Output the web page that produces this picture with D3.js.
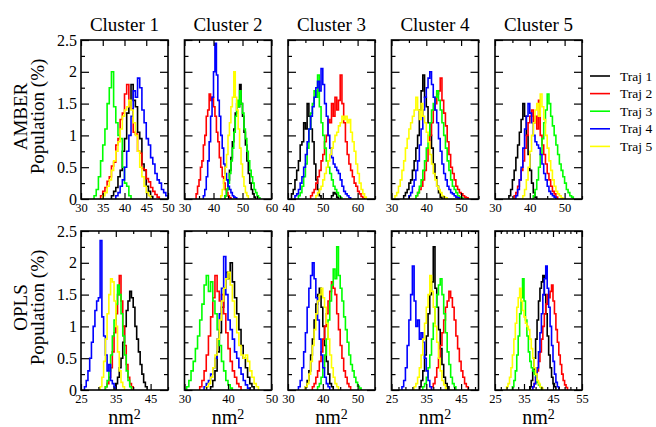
<!DOCTYPE html>
<html>
<head>
<meta charset="utf-8">
<script src="https://cdn.jsdelivr.net/npm/d3@7"></script>
<style>
  body { margin: 0; background: #fff; }
  svg text { font-family: "Liberation Serif", "DejaVu Serif", serif !important; fill: #000; }
</style>
</head>
<body>
<div id="chart"></div>
<script>
// Labels
const clusters = ["Cluster 1", "Cluster 2", "Cluster 3", "Cluster 4", "Cluster 5"];
const trajNames = ["Traj 1", "Traj 2", "Traj 3", "Traj 4", "Traj 5"];
const trajColors = ["#000000", "#ff0000", "#00ff00", "#0000ff", "#ffff00"];
const rowNames = ["AMBER", "OPLS"];
const binWidth = 0.5;

// Axis ranges and ticks
const amberDomains = [[30, 50], [30, 60], [40, 65], [30, 55], [30, 55]];
const oplsDomains = [[25, 50], [30, 50], [30, 55], [25, 50], [25, 55]];
const amberTicks = [[30, 35, 40, 45, 50], [30, 40, 50, 60], [40, 50, 60], [30, 40, 50], [30, 40, 50]];
const oplsTicks = [[25, 35, 45], [30, 40, 50], [30, 40, 50], [25, 35, 45], [25, 35, 45, 55]];
const amberMinor = [5, 5, 5, 5, 5];
const oplsMinor = [5, 5, 5, 2, 2];
const yTicks = [0, 0.5, 1, 1.5, 2, 2.5];
const yMinor = [0.25, 0.75, 1.25, 1.75, 2.25];

// Histogram start (nm2) of every trajectory, per cluster
const amberStart = [
  [37, 34.5, 33, 38, 35],
  [44, 34, 44, 36.5, 42.5],
  [41, 46.5, 43, 42, 48],
  [33.5, 37, 37, 35, 31],
  [34, 35.5, 41, 36, 38]
];
const oplsStart = [
  [34.5, 32, 32, 26, 30.5],
  [36, 33.5, 30.5, 34.5, 35],
  [35, 37, 38.5, 33, 35],
  [33, 36.5, 34, 28, 31.5],
  [37, 38, 31, 38, 29]
];

// Population (%) per 0.5 nm2 bin, Traj 1..5
const amberC1 = [
  [0.05,0.12,0.18,0.35,0.45,0.75,0.95,1.35,1.45,1.8,1.55,1.45,1.05,0.95,0.55,0.45,0.2,0.12,0.04],
  [0.05,0.12,0.18,0.28,0.35,0.52,0.58,0.85,0.95,1.25,1.35,1.65,1.8,1.45,1.42,1.05,1.02,0.75,0.72,0.48,0.46,0.32,0.27,0.18,0.12,0.07,0.03],
  [0.05,0.15,0.35,0.6,0.85,1.1,1.5,1.75,2.0,1.45,1.2,1.0,0.95,0.5,0.25,0.2,0.05],
  [0.05,0.1,0.2,0.3,0.5,0.75,1.0,1.3,1.7,1.6,1.9,1.75,1.4,1.2,0.95,0.85,0.65,0.55,0.4,0.3,0.25,0.15,0.1,0.05],
  [0.05,0.1,0.2,0.3,0.45,0.6,0.75,0.9,1.1,1.3,1.4,1.45,1.55,1.4,1.2,1.0,0.75,0.5,0.35,0.2,0.1,0.05]
];
const amberC2 = [
  [0.05,0.15,0.3,0.45,0.65,0.9,1.1,1.35,1.5,1.45,1.8,1.5,1.3,1.05,0.85,0.6,0.4,0.25,0.15,0.08,0.03],
  [0.08,0.2,0.3,0.5,0.6,0.85,1.0,1.3,1.4,1.65,1.55,1.6,1.45,1.3,1.05,0.9,0.65,0.5,0.35,0.25,0.15,0.1,0.05,0.02],
  [0.05,0.15,0.25,0.4,0.6,0.8,1.05,1.3,1.55,1.45,1.7,1.5,1.35,1.1,0.95,0.75,0.6,0.45,0.35,0.25,0.15,0.1,0.05,0.02],
  [0.05,0.15,0.35,0.6,0.9,1.3,1.6,2.0,2.45,1.95,1.55,1.3,1.0,0.8,0.55,0.4,0.3,0.2,0.15,0.1,0.05,0.03,0.02],
  [0.05,0.15,0.3,0.5,0.7,1.0,1.2,1.45,1.6,2.0,1.6,1.4,1.1,0.8,0.55,0.35,0.2,0.1,0.05]
];
const amberC3 = [
  [0.08,0.15,0.3,0.45,0.6,0.85,0.9,1.2,1.1,1.5,1.3,1.1,0.9,0.55,0.3,0.15,0.05,0,0,0,0,0,0,0.05,0.1,0.08,0.03],
  [0.05,0.1,0.15,0.25,0.35,0.45,0.6,0.7,0.9,1.0,1.25,1.2,1.5,1.3,1.6,1.4,1.55,1.95,1.5,1.2,0.9,0.7,0.55,0.45,0.35,0.25,0.2,0.12,0.08,0.04,0.02],
  [0.05,0.1,0.2,0.35,0.55,0.8,1.1,1.35,1.5,1.7,1.6,1.95,1.45,1.2,1.0,0.8,0.6,0.5,0.4,0.3,0.2,0.15,0.1,0.05,0.02],
  [0.05,0.08,0.15,0.25,0.35,0.5,0.7,0.9,1.1,1.3,1.45,1.6,1.75,1.85,1.7,2.05,1.8,1.5,1.3,1.0,0.8,0.65,0.55,0.5,0.45,0.4,0.3,0.2,0.12,0.08,0.05,0.02],
  [0.05,0.1,0.15,0.2,0.3,0.4,0.5,0.6,0.7,0.8,0.9,1.0,1.05,1.15,1.2,1.3,1.25,1.3,1.2,1.25,1.05,0.9,0.75,0.55,0.4,0.25,0.15,0.08,0.03]
];
const amberC4 = [
  [0.05,0.1,0.15,0.25,0.3,0.45,0.6,0.8,1.0,1.4,1.7,1.95,1.6,1.45,1.2,1.0,0.8,0.55,0.35,0.2,0.1,0.03],
  [0.05,0.1,0.15,0.2,0.3,0.45,0.6,0.8,1.0,1.2,1.4,1.5,1.65,1.7,1.9,1.55,1.35,1.15,0.9,0.7,0.5,0.4,0.3,0.2,0.15,0.1,0.08,0.05,0.03,0.02],
  [0.05,0.1,0.2,0.3,0.45,0.6,0.8,1.0,1.2,1.4,1.5,1.6,1.7,1.55,1.4,1.2,1.0,0.8,0.6,0.45,0.3,0.2,0.15,0.1,0.05,0.03,0.02],
  [0.05,0.1,0.2,0.3,0.45,0.6,0.85,1.1,1.4,1.6,1.75,1.9,2.0,1.8,1.6,1.4,1.2,0.95,0.75,0.55,0.4,0.3,0.2,0.15,0.1,0.08,0.05,0.03,0.02],
  [0.05,0.1,0.2,0.3,0.45,0.6,0.8,0.95,1.1,1.2,1.3,1.4,1.6,1.4,1.25,1.5,1.3,1.2,1.05,0.9,0.7,0.55,0.4,0.3,0.2,0.15,0.1,0.05,0.03,0.02]
];
const amberC5 = [
  [0.05,0.15,0.3,0.45,0.65,0.85,1.05,1.25,1.5,1.3,1.0,0.7,0.45,0.25,0.1,0.03],
  [0.05,0.1,0.2,0.3,0.45,0.6,0.8,1.0,1.2,1.3,1.4,1.2,1.3,1.1,1.55,1.0,0.85,0.7,0.55,0.4,0.3,0.2,0.12,0.08,0.03],
  [0.05,0.15,0.3,0.5,0.7,0.95,1.2,1.4,1.65,1.5,1.3,1.15,1.0,0.85,0.7,0.55,0.45,0.35,0.25,0.15,0.1,0.05,0.03],
  [0.05,0.15,0.3,0.5,0.8,1.1,1.3,1.5,1.35,1.2,1.0,0.9,0.85,0.8,0.7,0.55,0.4,0.3,0.2,0.12,0.08,0.05,0.03],
  [0.05,0.15,0.3,0.5,0.75,1.0,1.2,1.4,1.5,1.3,1.65,1.45,1.25,1.0,0.8,0.6,0.45,0.3,0.2,0.12,0.08,0.05,0.02]
];
const oplsC1 = [
  [0.05,0.1,0.2,0.35,0.5,0.75,1.0,1.25,1.4,1.55,1.45,1.3,1.0,0.8,0.6,0.4,0.25,0.12,0.05],
  [0.05,0.1,0.2,0.35,0.6,0.9,1.2,1.5,1.8,1.4,1.0,0.7,0.4,0.2,0.1,0.05],
  [0.05,0.15,0.3,0.55,0.85,1.1,1.35,1.65,1.5,1.2,0.85,0.55,0.3,0.15,0.05],
  [0.05,0.15,0.3,0.5,0.75,1.0,1.25,1.4,1.45,2.35,1.15,0.85,0.55,0.3,0.4,0.15,0.1,0.05],
  [0.05,0.2,0.45,0.8,1.2,1.5,1.75,1.7,1.4,1.0,0.6,0.3,0.12,0.05]
];
const oplsC2 = [
  [0.05,0.15,0.3,0.6,0.9,1.3,1.6,1.85,1.75,2.0,1.7,1.45,1.2,0.95,0.7,0.5,0.35,0.2,0.1,0.05],
  [0.05,0.15,0.3,0.55,0.85,1.15,1.45,1.8,1.55,1.4,1.5,1.2,0.9,0.65,0.45,0.3,0.2,0.1,0.05],
  [0.05,0.15,0.3,0.45,0.65,0.85,1.1,1.35,1.65,1.8,1.55,1.7,1.4,1.2,0.95,0.7,0.45,0.3,0.15,0.08,0.03],
  [0.05,0.1,0.15,0.25,0.35,0.5,0.8,1.2,1.6,2.1,1.5,1.1,0.95,0.8,0.6,0.5,0.35,0.25,0.15,0.08,0.03],
  [0.05,0.1,0.2,0.35,0.55,0.8,1.1,1.4,1.6,1.75,1.85,1.65,1.4,1.15,0.9,0.7,0.55,0.5,0.55,0.45,0.3,0.2,0.1,0.05]
];
const oplsC3 = [
  [0.05,0.15,0.3,0.55,0.8,1.1,1.35,1.5,1.6,1.3,1.0,0.7,0.45,0.25,0.1,0.05],
  [0.05,0.1,0.2,0.3,0.45,0.6,0.8,1.0,1.2,1.4,1.55,1.7,1.6,1.5,1.2,0.95,0.7,0.5,0.3,0.2,0.1,0.05],
  [0.05,0.1,0.2,0.35,0.55,0.8,1.1,1.4,1.65,1.9,1.75,2.25,1.8,1.6,1.4,1.15,0.95,0.75,0.55,0.4,0.3,0.2,0.12,0.06,0.03],
  [0.05,0.15,0.35,0.6,0.9,1.3,1.6,1.8,2.0,1.75,1.45,1.1,0.8,0.55,0.35,0.2,0.1,0.05],
  [0.05,0.1,0.25,0.45,0.7,0.95,1.2,1.4,1.5,1.6,1.45,1.3,1.05,0.8,0.55,0.35,0.2,0.1,0.05]
];
const oplsC4 = [
  [0.05,0.15,0.3,0.55,0.85,1.2,1.5,1.7,2.25,1.6,1.3,0.95,0.65,0.4,0.2,0.1,0.05],
  [0.05,0.1,0.2,0.35,0.5,0.7,0.9,1.1,1.3,1.4,1.55,1.45,1.3,1.1,0.85,0.65,0.45,0.3,0.2,0.1,0.05],
  [0.05,0.1,0.2,0.35,0.55,0.8,1.05,1.3,1.5,1.65,1.75,1.5,1.2,0.9,0.6,0.4,0.2,0.1,0.05],
  [0.05,0.15,0.35,0.7,1.1,1.5,1.95,1.4,1.0,1.1,0.8,0.9,0.75,0.5,0.3,0.15,0.05],
  [0.05,0.1,0.2,0.35,0.55,0.8,1.05,1.3,1.5,1.8,1.55,1.3,1.0,0.75,0.5,0.3,0.15,0.08,0.03]
];
const oplsC5 = [
  [0.05,0.15,0.3,0.5,0.8,1.1,1.4,1.6,1.7,1.8,1.5,1.2,0.85,0.55,0.35,0.2,0.1,0.05],
  [0.05,0.1,0.2,0.3,0.45,0.6,0.8,1.0,1.2,1.35,1.5,1.45,1.55,1.65,1.4,1.2,0.95,0.75,0.55,0.4,0.25,0.15,0.08,0.04],
  [0.05,0.15,0.3,0.55,0.85,1.2,1.45,1.75,1.4,1.1,0.85,0.6,0.45,0.35,0.3,0.25,0.2,0.12,0.08,0.05],
  [0.05,0.1,0.2,0.35,0.6,0.9,1.2,1.5,1.75,1.95,1.6,1.3,1.0,0.7,0.45,0.25,0.12,0.05],
  [0.05,0.1,0.2,0.35,0.55,0.8,1.05,1.3,1.45,1.6,1.4,1.25,1.15,1.05,1.0,0.95,0.8,0.65,0.5,0.35,0.25,0.15,0.1,0.05,0.03]
];

const rows = [
  { name: rowNames[0], domains: amberDomains, ticks: amberTicks, minor: amberMinor, start: amberStart, data: [amberC1, amberC2, amberC3, amberC4, amberC5] },
  { name: rowNames[1], domains: oplsDomains, ticks: oplsTicks, minor: oplsMinor, start: oplsStart, data: [oplsC1, oplsC2, oplsC3, oplsC4, oplsC5] }
];

// Layout
const W = 656, H = 427;
const panelW = 87;
const panelLeft = (i) => 81 + i * 103.5;
const rowTop = [40, 231];
const panelH = 159;
const serif = '"Liberation Serif", "DejaVu Serif", serif';

const svg = d3.select("#chart").append("svg").attr("width", W).attr("height", H);

const y = d3.scaleLinear().domain([0, 2.5]).range([panelH, 0]);

const line = d3.line()
  .x((d) => d[0])
  .y((d) => d[1])
  .curve(d3.curveStepAfter);

const axisStyle = (sel) => {
  sel.attr("font-family", null).attr("font-size", null);
  sel.select(".domain").remove();
  sel.selectAll("line").attr("stroke", "#000").attr("stroke-width", 1.2);
};

rows.forEach((row, r) => {
  row.data.forEach((series, c) => {
    const x = d3.scaleLinear().domain(row.domains[c]).range([0, panelW]);
    const g = svg.append("g").attr("transform", `translate(${panelLeft(c)},${rowTop[r]})`);

    const clipId = `clip-${r}-${c}`;
    g.append("clipPath").attr("id", clipId)
      .append("rect").attr("width", panelW).attr("height", panelH);

    // Histograms
    const plot = g.append("g").attr("clip-path", `url(#${clipId})`);
    series.forEach((vals, t) => {
      const x0 = row.start[c][t];
      const pts = [[x(x0), y(0)]];
      vals.forEach((v, i) => pts.push([x(x0 + i * binWidth), y(v)]));
      const xEnd = x0 + vals.length * binWidth;
      pts.push([x(xEnd), y(vals[vals.length - 1])]);
      pts.push([x(xEnd), y(0)]);
      plot.append("path")
        .attr("d", line(pts))
        .attr("fill", "none")
        .attr("stroke", trajColors[t])
        .attr("stroke-width", 1.6);
    });

    // Minor ticks
    const [d0, d1] = row.domains[c];
    const minorX = d3.range(d0, d1 + 1e-9, row.minor[c]).filter((v) => !row.ticks[c].includes(v));
    g.append("g").attr("transform", `translate(0,${panelH})`)
      .call(d3.axisBottom(x).tickValues(minorX).tickSize(-3).tickFormat(""))
      .call(axisStyle);
    g.append("g")
      .call(d3.axisTop(x).tickValues(minorX).tickSize(-3).tickFormat(""))
      .call(axisStyle);
    g.append("g")
      .call(d3.axisLeft(y).tickValues(yMinor).tickSize(-4).tickFormat(""))
      .call(axisStyle);
    g.append("g").attr("transform", `translate(${panelW},0)`)
      .call(d3.axisRight(y).tickValues(yMinor).tickSize(-4).tickFormat(""))
      .call(axisStyle);

    // Major ticks
    const xb = g.append("g").attr("transform", `translate(0,${panelH})`)
      .call(d3.axisBottom(x).tickValues(row.ticks[c]).tickSize(-6).tickPadding(4).tickFormat(d3.format("d")))
      .call(axisStyle);
    xb.selectAll("text").style("font-family", serif).style("font-size", "12.5px");
    g.append("g")
      .call(d3.axisTop(x).tickValues(row.ticks[c]).tickSize(-6).tickFormat(""))
      .call(axisStyle);
    const yl = g.append("g")
      .call(d3.axisLeft(y).tickValues(yTicks).tickSize(-8).tickPadding(4)
        .tickFormat(c === 0 ? (d) => d : ""))
      .call(axisStyle);
    yl.selectAll("text").style("font-family", serif).style("font-size", "16px");
    g.append("g").attr("transform", `translate(${panelW},0)`)
      .call(d3.axisRight(y).tickValues(yTicks).tickSize(-8).tickFormat(""))
      .call(axisStyle);

    // Frame
    g.append("rect")
      .attr("width", panelW).attr("height", panelH)
      .attr("fill", "none").attr("stroke", "#000").attr("stroke-width", 1.6);

    // Cluster titles
    if (r === 0) {
      g.append("text")
        .attr("x", panelW / 2).attr("y", -9)
        .attr("text-anchor", "middle")
        .style("font-family", serif)
        .style("font-size", "19px")
        .text(clusters[c]);
    }
    // nm2 labels
    if (r === 1) {
      const t = g.append("text")
        .attr("x", panelW / 2).attr("y", panelH + 34)
        .attr("text-anchor", "middle")
        .style("font-family", serif)
        .style("font-size", "20px");
      t.append("tspan").text("nm");
      t.append("tspan").attr("dy", -5).style("font-size", "14px").text("2");
    }
  });

  // Row titles
  const cy = rowTop[r] + panelH / 2 - 3;
  svg.append("text")
    .attr("transform", `translate(27,${cy}) rotate(-90)`)
    .attr("text-anchor", "middle")
    .style("font-family", serif)
    .style("font-size", "19px")
    .text(row.name);
  svg.append("text")
    .attr("transform", `translate(44,${cy}) rotate(-90)`)
    .attr("text-anchor", "middle")
    .style("font-family", serif)
    .style("font-size", "19px")
    .text("Population (%)");
});

// Legend
const legend = svg.append("g").attr("transform", "translate(590,76)");
trajNames.forEach((name, i) => {
  const ly = i * 17.6;
  legend.append("line")
    .attr("x1", 0).attr("x2", 20).attr("y1", ly).attr("y2", ly)
    .attr("stroke", trajColors[i]).attr("stroke-width", 1.6);
  legend.append("text")
    .attr("x", 30).attr("y", ly + 4.5)
    .style("font-family", serif)
    .style("font-size", "13.5px")
    .text(name);
});
</script>
</body>
</html>
